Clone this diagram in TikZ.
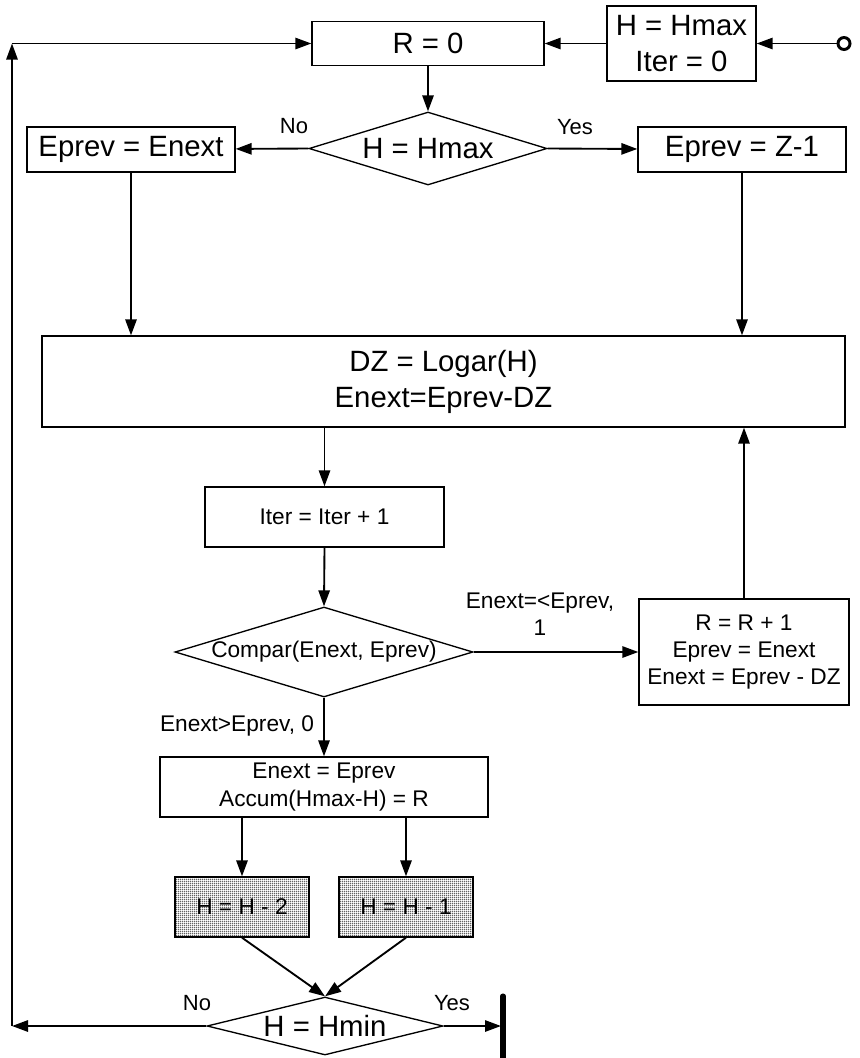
\documentclass[tikz,border=0pt]{standalone}
\usepackage{fontspec}
\setmainfont{Liberation Sans}
\usetikzlibrary{shapes.geometric,arrows.meta,patterns.meta}
\pgfdeclarepattern{
  name=finegrid,
  type=uncolored,
  bottom left={\pgfpoint{0pt}{0pt}},
  top right={\pgfpoint{1.5pt}{1.5pt}},
  tile size={\pgfpoint{1.5pt}{1.5pt}},
  code={
    \pgfsetlinewidth{0.75pt}
    \pgfpathmoveto{\pgfpoint{0pt}{0.375pt}}
    \pgfpathlineto{\pgfpoint{1.5pt}{0.375pt}}
    \pgfpathmoveto{\pgfpoint{0.375pt}{0pt}}
    \pgfpathlineto{\pgfpoint{0.375pt}{1.5pt}}
    \pgfusepath{stroke}
  }
}
\newcommand\fbig{\fontsize{22}{27}\selectfont}
\newcommand\fmed{\fontsize{17}{20.5}\selectfont}
\newcommand\flab{\fontsize{16.5}{19}\selectfont}
\tikzset{
  pbox/.style={draw, line width=1pt, rectangle, inner sep=0pt, align=center},
  gbox/.style={pbox, pattern=finegrid, pattern color=black!68},
  dia/.style={draw, line width=1pt, diamond, inner sep=0pt},
  lbl/.style={inner sep=0pt, align=center},
  arr/.style={line width=1.4pt, -{Triangle[length=12pt,width=8.5pt]}},
}
\begin{document}
\begin{tikzpicture}[x=0.75pt,y=-0.75pt]
\useasboundingbox (0,0) rectangle (860,1058);
% top row
\node[pbox, minimum width=174pt, minimum height=33pt, font=\fbig] (r0) at (428,43.5) {R = 0};
\node[pbox, minimum width=111.75pt, minimum height=56.25pt, font=\fbig] (hmax) at (681.5,43.5) {H = Hmax\\Iter = 0};
\node[circle, draw, line width=2.2pt, minimum size=9pt, inner sep=0pt] (start) at (844,43.5) {};
% first decision
\node[dia, minimum width=178.5pt, minimum height=54.75pt] (d1) at (428,148.5) {};
\node[lbl, font=\fbig] (d1t) at (d1.center) {H = Hmax};
\node[pbox, minimum width=156pt, minimum height=33.75pt, font=\fbig] (e1) at (131,149.5) {Eprev = Enext};
\node[pbox, minimum width=156pt, minimum height=33.75pt, font=\fbig] (e2) at (742,149.5) {Eprev = Z-1};
\node[lbl, font=\flab] (no1) at (294,126) {No};
\node[lbl, font=\flab] (yes1) at (575,127) {Yes};
% DZ box
\node[pbox, minimum width=602.25pt, minimum height=68.25pt, font=\fbig] (dz) at (443.5,381.5) {DZ = Logar(H)\\Enext=Eprev-DZ};
% Iter
\node[pbox, minimum width=179.25pt, minimum height=45pt, font=\fmed] (iter) at (324.5,517) {Iter = Iter + 1};
% Compar
\node[dia, minimum width=223.5pt, minimum height=67.5pt] (d2) at (324,652) {};
\node[lbl, font=\fmed] (d2t) at (d2.center) {Compar(Enext, Eprev)};
\node[pbox, minimum width=157.5pt, minimum height=79.5pt, font=\fmed] (rb) at (744,652) {R = R + 1\\Eprev = Enext\\Enext = Eprev - DZ};
\node[lbl, font=\fmed] (l1) at (540,614) {Enext=<Eprev,\\1};
\node[lbl, font=\fmed] (l2) at (237,726) {Enext>Eprev, 0};
% Enext box
\node[pbox, minimum width=246pt, minimum height=45pt, font=\fmed, execute at begin node={\setlength{\baselineskip}{21.5pt}}] (eb) at (324,787) {Enext = Eprev\\Accum(Hmax-H) = R};
% grey boxes
\node[gbox, minimum width=100.5pt, minimum height=45pt, font=\fmed] (g1) at (242,907) {H = H - 2};
\node[gbox, minimum width=100.5pt, minimum height=45pt, font=\fmed] (g2) at (406,907) {H = H - 1};
% final decision
\node[dia, minimum width=177pt, minimum height=43.5pt] (d3) at (325,1026) {};
\node[lbl, font=\fbig] (d3t) at (d3.center) {H = Hmin};
\node[lbl, font=\flab] (no2) at (197,1003) {No};
\node[lbl, font=\flab] (yes2) at (452,1003) {Yes};
% coordinates
\coordinate (bl) at (12,1026);
\coordinate (tl) at (12,43.5);
\coordinate (bartop) at (503,996);
\coordinate (barbot) at (503,1062);
\coordinate (barhit) at (501,1026);
% connectors
\draw[arr] (start) -- (hmax);
\draw[arr] (hmax) -- (r0);
\draw[arr] (r0) -- (d1);
\draw[arr] (d1.west) -- (e1);
\draw[arr] (d1.east) -- (e2);
\draw[arr] (e1.south) -- (e1.south |- dz.north);
\draw[arr] (e2.south) -- (e2.south |- dz.north);
\draw[arr] (iter.north |- dz.south) -- (iter.north);
\draw[arr] (iter.south) -- (d2.north);
\draw[arr] (d2.east) -- (rb.west);
\draw[arr] (rb.north) -- (rb.north |- dz.south);
\draw[arr] (d2.south) -- (eb.north);
\draw[arr] (g1.north |- eb.south) -- (g1.north);
\draw[arr] (g2.north |- eb.south) -- (g2.north);
\draw[arr] (g1.south) -- (d3.north);
\draw[arr] (g2.south) -- (d3.north);
\draw[arr] (d3.east) -- (barhit);
\draw[line width=3.8pt, line cap=round] (bartop) -- (barbot);
\draw[arr] (d3.west) -- (bl);
\draw[arr] (bl) -- (tl);
\draw[arr] (tl) -- (r0.west);
\end{tikzpicture}
\end{document}
